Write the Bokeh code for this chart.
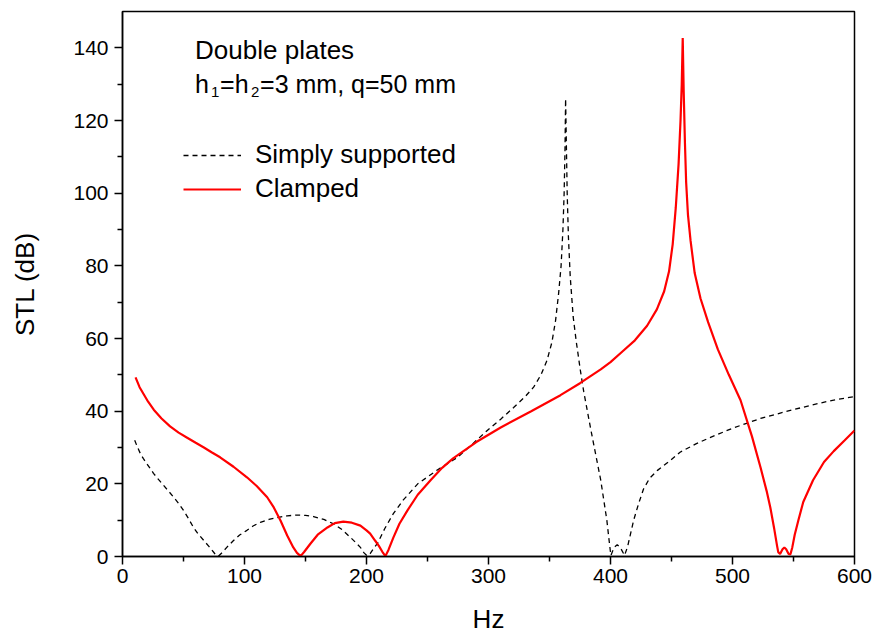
from bokeh.plotting import figure
from bokeh.models import Label, Legend, LegendItem, FixedTicker, Range1d
from bokeh.embed import file_html
from bokeh.resources import INLINE

# Simply supported (dashed black)
ss_hz = [10, 12, 14.7, 17, 20, 25.4, 30, 33.6, 38, 42, 46, 50, 54, 58.2, 62, 66.7, 71, 74.9, 77,
         79, 82, 86, 91, 96, 102, 107, 113, 120, 127, 135, 143, 150, 156.6, 165, 173, 180, 187,
         191, 195, 198, 200.5, 203, 206, 209, 215, 222, 230, 242, 258, 274.6, 287, 299, 310,
         320.6, 330, 337, 343, 348, 352, 355, 357.5, 359.5, 361, 362, 362.7, 363.2, 363.8,
         364.5, 365.5, 367, 369.4, 372, 375.4, 378, 384, 392, 397, 399, 400.3, 403, 405.5,
         408, 411.5, 414, 419, 423, 427, 432, 438.5, 449, 457, 470, 482, 500, 523, 545, 564,
         582, 600]
ss_db = [32, 30.3, 28.3, 27, 25.5, 22.9, 21, 19.6, 17.9, 16.3, 14.6, 12.7, 10.5, 8, 6.2, 4.4,
         2.7, 1.1, 0.2, 0.2, 1.2, 2.7, 4.4, 5.9, 7.2, 8.4, 9.4, 10.2, 10.7, 11.2, 11.4, 11.3,
         11, 10.2, 9, 7.4, 5.2, 3.9, 2.5, 1, 0.2, 0.8, 2.3, 3.6, 7.7, 11.8, 15.5, 20, 23.8,
         27.3, 31, 34.7, 37.8, 41, 44, 46.6, 50, 54, 59, 65, 72.5, 80, 90, 100, 112, 126, 114,
         100, 88, 77, 66, 59, 51, 45.5, 34.7, 21, 10, 4, 0.3, 2.5, 3.2, 2.5, 0.3, 2.7, 10, 14.5,
         18.5, 21.5, 23.7, 26.4, 28.7, 31, 32.8, 35.3, 38, 40, 41.6, 43, 44]

# Clamped (solid red)
cl_hz = [10.7, 14, 17.5, 21, 25.6, 32, 39, 46, 53, 60, 66.7, 73, 80, 91, 102, 110, 118.6, 124,
         129.5, 135, 140, 143, 146, 149, 154, 160, 168, 174, 181, 188, 195, 200, 203, 207, 210,
         213, 215.5, 218, 222, 227, 233.6, 242, 252.5, 262, 271, 290, 310, 335, 359, 375, 392,
         400, 410, 420, 430, 438, 444, 448, 451, 453.5, 455.8, 457.4, 458.4, 459.2, 460, 461,
         462, 463.5, 465.6, 469, 473.8, 480, 488, 497, 506.6, 516, 523, 528, 531, 534, 536.5,
         537.5, 539, 541, 542.5, 544, 546, 547.5, 549, 551, 554, 558, 566, 575, 583, 592, 600]
cl_db = [49.3, 46.6, 44.6, 42.6, 40.4, 38, 35.8, 34.1, 32.7, 31.3, 30, 28.7, 27.3, 24.7, 21.8,
         19.4, 16.3, 13.5, 9.9, 5.8, 2.5, 1, 0.1, 1.3, 3.5, 6, 8, 9.2, 9.6, 9.3, 8.5, 7.2, 6.3,
         4.4, 3, 1.3, 0.1, 1.8, 5.2, 9, 12.7, 17, 21, 24.4, 27, 31.5, 35.5, 40, 44.4, 47.7,
         51.5, 53.5, 56.5, 59.5, 63.5, 68, 73, 78.5, 86, 96, 108, 120, 130, 142.7, 128, 114,
         103, 94, 87, 78, 71, 64.5, 57, 50, 43, 33, 24.5, 18, 13.5, 8, 3, 1.2, 0.7, 2, 2.5, 2,
         0.7, 0.6, 2.5, 6, 10, 15, 21, 26, 29, 32, 34.7]

x_major = [0, 100, 200, 300, 400, 500, 600]
x_minor = [50, 150, 250, 350, 450, 550]
y_major = [0, 20, 40, 60, 80, 100, 120, 140]
y_minor = [10, 30, 50, 70, 90, 110, 130]

FONT = "Liberation Sans"

p = figure(width=872, height=637, x_range=Range1d(0, 600), y_range=Range1d(0, 150),
           output_backend="svg", toolbar_location=None,
           min_border_left=122, min_border_right=18, min_border_top=11, min_border_bottom=81)
p.grid.visible = False
p.outline_line_color = "black"
p.outline_line_width = 1.5
p.background_fill_color = "white"
p.border_fill_color = "white"

for ax, maj, mnr in ((p.xaxis[0], x_major, x_minor), (p.yaxis[0], y_major, y_minor)):
    ax.ticker = FixedTicker(ticks=maj, minor_ticks=mnr)
    ax.axis_line_width = 1.5
    ax.major_tick_line_width = 1.5
    ax.minor_tick_line_width = 1.5
    ax.major_tick_out = 8
    ax.major_tick_in = 0
    ax.minor_tick_out = 5
    ax.minor_tick_in = 0
    ax.major_label_text_font = FONT
    ax.major_label_text_font_size = "21px"
    ax.major_label_text_color = "black"
    ax.axis_label_text_font = FONT
    ax.axis_label_text_font_size = "26px"
    ax.axis_label_text_font_style = "normal"
    ax.axis_label_text_color = "black"

p.xaxis.axis_label = "Hz"
p.yaxis.axis_label = "STL (dB)"
p.xaxis.major_label_standoff = 4
p.yaxis.major_label_standoff = 6
p.xaxis.axis_label_standoff = 18
p.yaxis.axis_label_standoff = 30

ss = p.line(ss_hz, ss_db, line_color="black", line_width=1.3, line_dash="5 4")
cl = p.line(cl_hz, cl_db, line_color="red", line_width=2.2)

legend = Legend(items=[LegendItem(label="Simply supported", renderers=[ss]),
                       LegendItem(label="Clamped", renderers=[cl])],
                location=(61, 352), glyph_width=58, glyph_height=26, label_height=26,
                spacing=3, padding=0, margin=0, label_standoff=14,
                label_text_font=FONT, label_text_font_size="26px", label_text_color="black",
                background_fill_alpha=0, border_line_alpha=0)
p.add_layout(legend)

common = dict(text_font=FONT, text_color="black", text_baseline="alphabetic")
p.add_layout(Label(x=59.5, y=139.4, text="Double plates", text_font_size="26px", **common))
pieces = [("h", 0, 0, "25px"), ("1", 16, -8, "15px"), ("=h", 25, 0, "25px"),
          ("2", 56, -8, "15px"), ("=3 mm, q=50 mm", 65, 0, "25px")]
for t, dx, dy, fs in pieces:
    p.add_layout(Label(x=59.5, y=130.1, x_offset=dx, y_offset=dy, text=t,
                       text_font_size=fs, **common))

open("out.html", "w").write(file_html(p, INLINE))
